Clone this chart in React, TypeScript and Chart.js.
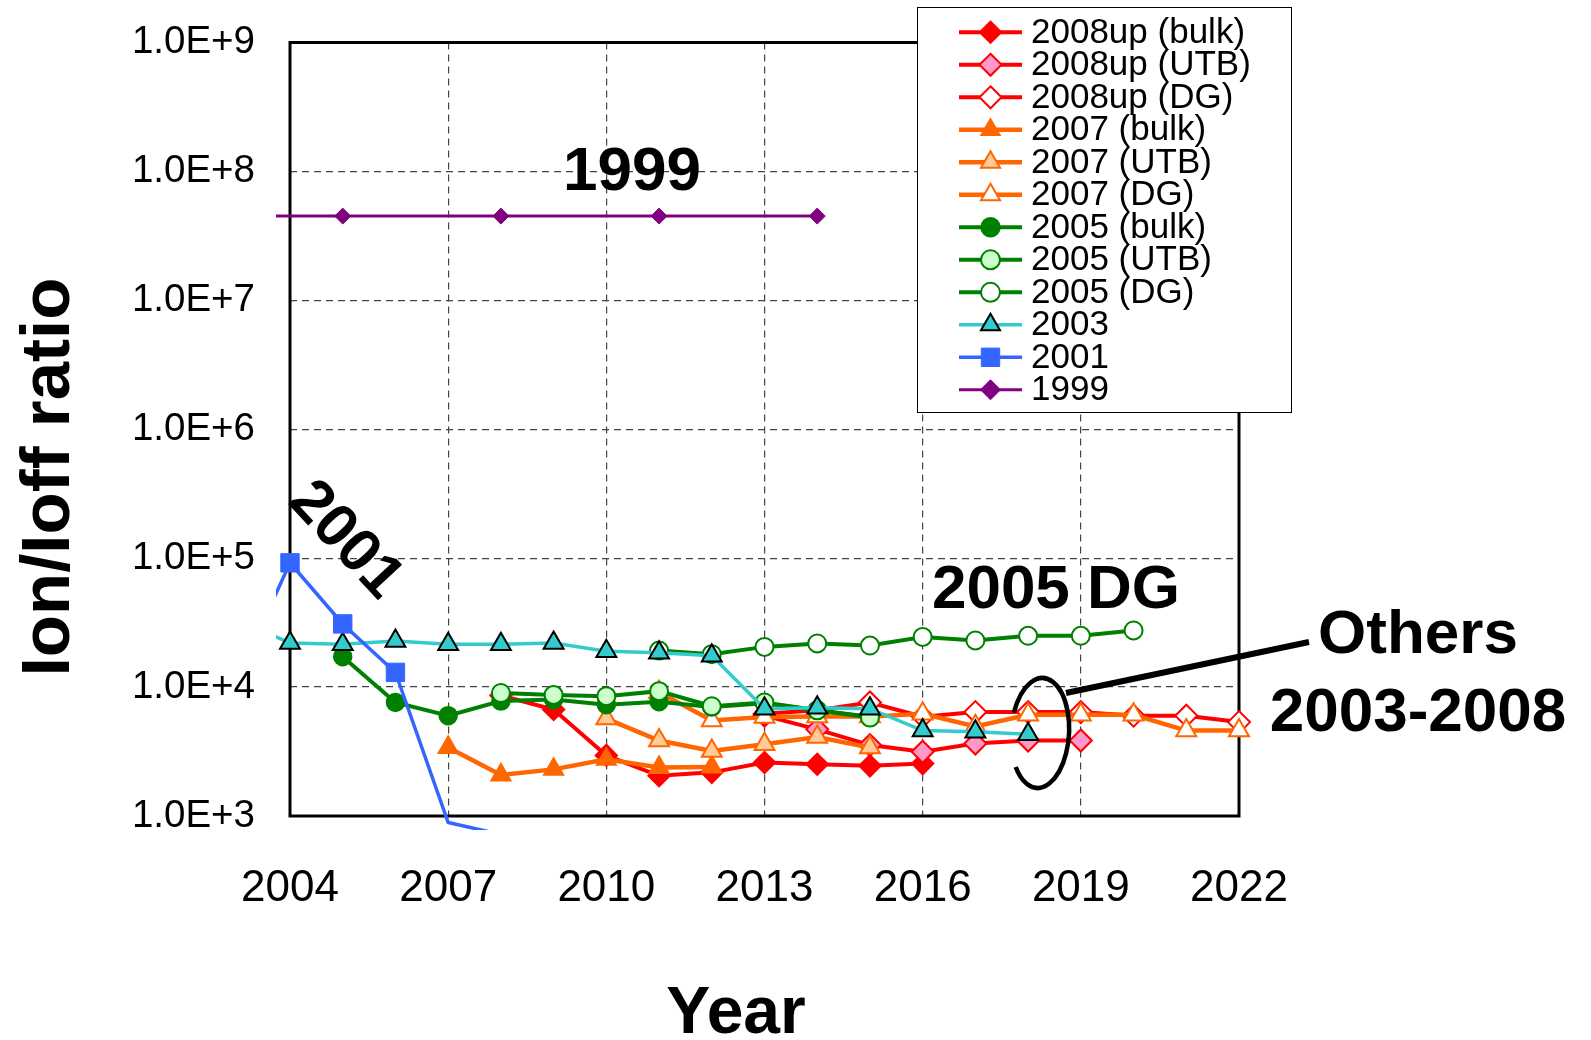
import React, { useEffect, useRef } from 'react';
import { Chart, registerables } from 'chart.js';

Chart.register(...registerables);

const FONT = '"Liberation Sans", Arial, Helvetica, sans-serif';

// ---- axis ticks ----
const xTicks = [2004, 2007, 2010, 2013, 2016, 2019, 2022];
const yTicks = [1e3, 1e4, 1e5, 1e6, 1e7, 1e8, 1e9];

// ---- series data (Ion/Ioff ratio by year) ----
const years2008bulk = [2008, 2009, 2010, 2011, 2012, 2013, 2014, 2015, 2016];
const vals2008bulk = [8600, 6700, 2950, 2050, 2180, 2600, 2520, 2450, 2550];

const years2008utb = [2013, 2014, 2015, 2016, 2017, 2018, 2019];
const vals2008utb = [6000, 4700, 3550, 3150, 3650, 3850, 3850];

const years2008dg = [2013, 2014, 2015, 2016, 2017, 2018, 2019, 2020, 2021, 2022];
const vals2008dg = [6200, 6600, 7600, 5900, 6400, 6400, 6400, 6000, 6000, 5350];

const years2007bulk = [2007, 2008, 2009, 2010, 2011, 2012];
const vals2007bulk = [3400, 2080, 2300, 2750, 2380, 2400];

const years2007utb = [2010, 2011, 2012, 2013, 2014, 2015];
const vals2007utb = [5700, 3850, 3200, 3600, 4100, 3400];

const years2007dg = [2011, 2012, 2013, 2014, 2015, 2016, 2017, 2018, 2019, 2020, 2021, 2022];
const vals2007dg = [9100, 5500, 5850, 5900, 5900, 6200, 4960, 6100, 6100, 6100, 4600, 4600];

const years2005bulk = [2005, 2006, 2007, 2008, 2009, 2010, 2011, 2012, 2013, 2014, 2015];
const vals2005bulk = [17200, 7600, 6000, 7800, 8000, 7300, 7700, 7000, 7500, 6600, 5900];

const years2005utb = [2008, 2009, 2010, 2011, 2012, 2013, 2014, 2015];
const vals2005utb = [9000, 8700, 8500, 9300, 7100, 7600, 6600, 5800];

const years2005dg = [2011, 2012, 2013, 2014, 2015, 2016, 2017, 2018, 2019, 2020];
const vals2005dg = [19200, 18000, 20500, 21800, 21000, 24500, 23000, 25000, 25000, 27500];

const years2003 = [2003, 2004, 2005, 2006, 2007, 2008, 2009, 2010, 2011, 2012, 2013, 2014, 2015, 2016, 2017, 2018];
const vals2003 = [33000, 22000, 21500, 22800, 21500, 21500, 22000, 19000, 18500, 17500, 6800, 6900, 6800, 4600, 4500, 4300];

const years2001 = [2003, 2004, 2005, 2006, 2007, 2008];
const vals2001 = [11600, 92000, 30900, 13000, 890, 720];

const years1999 = [2002, 2005, 2008, 2011, 2014];
const vals1999 = [4.5e7, 4.5e7, 4.5e7, 4.5e7, 4.5e7];

type Style = 'rectRot' | 'triangle' | 'circle' | 'rect';

interface Series {
  label: string;
  years: number[];
  vals: number[];
  line: string;
  lw: number;
  style: Style;
  r: number;
  legendR: number;
  fill: string;
  stroke: string;
  bw: number;
  hidden?: number[]; // years without a marker
}

const RED = '#FF0000';
const PINK = '#FF99CC';
const ORANGE = '#FF6600';
const LORANGE = '#FFCC99';
const GREEN = '#008000';
const LGREEN = '#CCFFCC';
const TEAL = '#33CCCC';
const BLUE = '#3366FF';
const PURPLE = '#800080';

const series: Series[] = [
  { label: '2008up (bulk)', years: years2008bulk, vals: vals2008bulk, line: RED, lw: 4, style: 'rectRot', r: 11, legendR: 11, fill: RED, stroke: RED, bw: 1.5 },
  { label: '2008up (UTB)', years: years2008utb, vals: vals2008utb, line: RED, lw: 4, style: 'rectRot', r: 11, legendR: 11, fill: PINK, stroke: RED, bw: 2 },
  { label: '2008up (DG)', years: years2008dg, vals: vals2008dg, line: RED, lw: 4, style: 'rectRot', r: 11, legendR: 11, fill: '#FFFFFF', stroke: RED, bw: 2 },
  { label: '2007 (bulk)', years: years2007bulk, vals: vals2007bulk, line: ORANGE, lw: 4.5, style: 'triangle', r: 11.5, legendR: 11, fill: ORANGE, stroke: ORANGE, bw: 1.5 },
  { label: '2007 (UTB)', years: years2007utb, vals: vals2007utb, line: ORANGE, lw: 4.5, style: 'triangle', r: 11.5, legendR: 11, fill: LORANGE, stroke: ORANGE, bw: 2 },
  { label: '2007 (DG)', years: years2007dg, vals: vals2007dg, line: ORANGE, lw: 4.5, style: 'triangle', r: 11.5, legendR: 11, fill: '#FFFFFF', stroke: ORANGE, bw: 2 },
  { label: '2005 (bulk)', years: years2005bulk, vals: vals2005bulk, line: GREEN, lw: 4, style: 'circle', r: 9, legendR: 9.5, fill: GREEN, stroke: GREEN, bw: 1.5 },
  { label: '2005 (UTB)', years: years2005utb, vals: vals2005utb, line: GREEN, lw: 4, style: 'circle', r: 9, legendR: 9.5, fill: LGREEN, stroke: GREEN, bw: 2 },
  { label: '2005 (DG)', years: years2005dg, vals: vals2005dg, line: GREEN, lw: 4, style: 'circle', r: 9, legendR: 9.5, fill: '#FFFFFF', stroke: GREEN, bw: 2 },
  { label: '2003', years: years2003, vals: vals2003, line: TEAL, lw: 3.5, style: 'triangle', r: 11.5, legendR: 11, fill: TEAL, stroke: '#000000', bw: 2, hidden: [2003] },
  { label: '2001', years: years2001, vals: vals2001, line: BLUE, lw: 3.5, style: 'rect', r: 13, legendR: 13, fill: BLUE, stroke: BLUE, bw: 1, hidden: [2003, 2007, 2008] },
  { label: '1999', years: years1999, vals: vals1999, line: PURPLE, lw: 3, style: 'rectRot', r: 8, legendR: 10, fill: PURPLE, stroke: PURPLE, bw: 1, hidden: [2002] },
];

function drawMarker(ctx: CanvasRenderingContext2D, s: Series, x: number, y: number) {
  const r = s.legendR;
  ctx.beginPath();
  if (s.style === 'rectRot') {
    ctx.moveTo(x, y - r);
    ctx.lineTo(x + r, y);
    ctx.lineTo(x, y + r);
    ctx.lineTo(x - r, y);
    ctx.closePath();
  } else if (s.style === 'triangle') {
    const a = Math.sin(Math.PI / 3) * r;
    ctx.moveTo(x, y - r);
    ctx.lineTo(x + a, y + r / 2);
    ctx.lineTo(x - a, y + r / 2);
    ctx.closePath();
  } else if (s.style === 'circle') {
    ctx.arc(x, y, r, 0, Math.PI * 2);
  } else {
    const h = Math.SQRT1_2 * r;
    ctx.rect(x - h, y - h, 2 * h, 2 * h);
  }
  ctx.fillStyle = s.fill;
  ctx.fill();
  ctx.lineWidth = s.bw;
  ctx.strokeStyle = s.stroke;
  ctx.stroke();
}

const overlayPlugin = {
  id: 'overlay',
  beforeDatasetsDraw(chart: any) {
    const { ctx, chartArea: a } = chart;
    ctx.save();
    ctx.strokeStyle = '#000';
    ctx.lineWidth = 3;
    ctx.strokeRect(a.left, a.top, a.right - a.left, a.bottom - a.top);
    ctx.restore();
  },
  afterDraw(chart: any) {
    const ctx: CanvasRenderingContext2D = chart.ctx;
    ctx.save();

    // legend box
    ctx.fillStyle = '#FFFFFF';
    ctx.fillRect(917.5, 7.5, 374, 405);
    ctx.strokeStyle = '#000';
    ctx.lineWidth = 1;
    ctx.strokeRect(917.5, 7.5, 374, 405);
    series.forEach((s, i) => {
      const y = 32.3 + 32.5 * i;
      ctx.beginPath();
      ctx.moveTo(959, y);
      ctx.lineTo(1022, y);
      ctx.strokeStyle = s.line;
      ctx.lineWidth = s.lw;
      ctx.stroke();
      drawMarker(ctx, s, 990.5, y);
      ctx.fillStyle = '#000';
      ctx.font = `35px ${FONT}`;
      ctx.textAlign = 'left';
      ctx.textBaseline = 'alphabetic';
      ctx.fillText(s.label, 1031, y + 10.5);
    });

    // axis titles
    ctx.fillStyle = '#000';
    ctx.font = `bold 66px ${FONT}`;
    ctx.textAlign = 'center';
    ctx.textBaseline = 'alphabetic';
    ctx.fillText('Year', 736, 1033);
    ctx.save();
    ctx.translate(69, 477);
    ctx.rotate(-Math.PI / 2);
    ctx.font = `bold 69px ${FONT}`;
    ctx.fillText('Ion/Ioff ratio', 0, 0);
    ctx.restore();

    // annotations
    ctx.font = `bold 62px ${FONT}`;
    ctx.fillText('1999', 632, 190);
    ctx.fillText('2005 DG', 1056, 608);
    ctx.fillText('Others', 1418, 653);
    ctx.fillText('2003-2008', 1418, 731);
    ctx.save();
    ctx.translate(349, 537);
    ctx.rotate((47 * Math.PI) / 180);
    ctx.font = `bold 61px ${FONT}`;
    ctx.fillText('2001', 0, 22);
    ctx.restore();

    // ellipse with a gap on the left
    ctx.beginPath();
    ctx.ellipse(1040, 733, 29, 55, 0.06, (200 * Math.PI) / 180, (500 * Math.PI) / 180);
    ctx.strokeStyle = '#000';
    ctx.lineWidth = 4.5;
    ctx.stroke();
    // leader line
    ctx.beginPath();
    ctx.moveTo(1066, 693);
    ctx.lineTo(1309, 642);
    ctx.lineWidth = 6;
    ctx.stroke();

    ctx.restore();
  },
};

export default function App() {
  const ref = useRef<HTMLCanvasElement | null>(null);

  useEffect(() => {
    if (!ref.current) return;
    Chart.defaults.font.family = FONT;
    const n = series.length;
    const datasets = series.map((s, i) => ({
      label: s.label,
      data: s.years.map((y, k) => ({ x: y, y: s.vals[k] })),
      borderColor: s.line,
      borderWidth: s.lw,
      backgroundColor: s.fill,
      pointStyle: s.style,
      pointRadius: s.years.map((y) => (s.hidden && s.hidden.includes(y) ? 0 : s.r)),
      pointBackgroundColor: s.fill,
      pointBorderColor: s.stroke,
      pointBorderWidth: s.bw,
      tension: 0,
      fill: false,
      order: n - i,
      clip: { left: 14, top: 20, right: 14, bottom: 14 },
    }));

    const gridCommon = {
      color: '#444444',
      lineWidth: 1.2,
      drawTicks: false,
      tickLength: 0,
    };

    const chart = new Chart(ref.current, {
      type: 'line',
      data: { datasets },
      plugins: [overlayPlugin],
      options: {
        animation: false,
        responsive: false,
        devicePixelRatio: 1,
        events: [],
        layout: { padding: { top: 42.5, right: 352, left: 0, bottom: 0 } },
        plugins: { legend: { display: false }, tooltip: { enabled: false } },
        scales: {
          x: {
            type: 'linear',
            min: 2004,
            max: 2022,
            afterBuildTicks: (s: any) => {
              s.ticks = xTicks.map((v) => ({ value: v }));
            },
            afterFit: (s: any) => {
              s.height = 224;
              s.paddingLeft = 0;
              s.paddingRight = 0;
            },
            ticks: {
              padding: 46,
              color: '#000',
              font: { size: 44, family: FONT },
              maxRotation: 0,
              autoSkip: false,
              callback: (v: any) => String(v),
            },
            grid: gridCommon,
            border: { display: false, dash: [7, 5] },
          },
          y: {
            type: 'logarithmic',
            min: 1e3,
            max: 1e9,
            afterBuildTicks: (s: any) => {
              s.ticks = yTicks.map((v) => ({ value: v }));
            },
            afterFit: (s: any) => {
              s.width = 290;
              s.paddingTop = 0;
              s.paddingBottom = 0;
            },
            ticks: {
              padding: 35,
              color: '#000',
              font: { size: 38.5, family: FONT },
              autoSkip: false,
              callback: (v: any) => '1.0E+' + Math.round(Math.log10(Number(v))),
            },
            grid: gridCommon,
            border: { display: false, dash: [7, 5] },
          },
        },
      } as any,
    });
    return () => chart.destroy();
  }, []);

  return (
    <div style={{ position: 'absolute', left: 0, top: 0, width: 1591, height: 1040, background: '#fff' }}>
      <canvas ref={ref} width={1591} height={1040} style={{ display: 'block' }} />
    </div>
  );
}
